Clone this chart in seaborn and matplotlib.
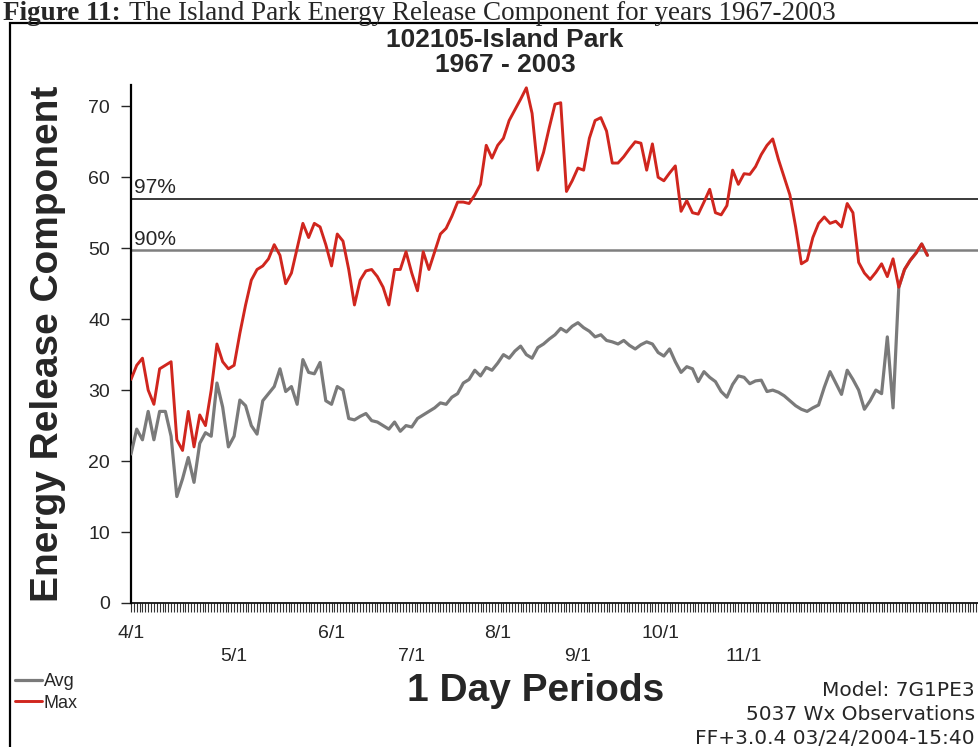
import numpy as np
import pandas as pd
import matplotlib
matplotlib.use("Agg")
import matplotlib.pyplot as plt
import seaborn as sns
from matplotlib.ticker import MultipleLocator
from matplotlib.patches import Rectangle

# ERC, un valor cada 2 dias desde 4/1
max_erc = [31.5, 33.5, 34.5, 30, 28, 33, 33.5, 34, 23, 21.5,
           27, 22, 26.5, 25, 30, 36.5, 34, 33, 33.5, 38,
           42, 45.5, 47, 47.5, 48.5, 50.5, 49, 45, 46.5, 50,
           53.5, 51.5, 53.5, 53, 50.5, 47.5, 52, 51, 47, 42,
           45.5, 46.8, 47, 46, 44.5, 42, 47, 47, 49.5, 46.5,
           44, 49.5, 47, 49.5, 52, 52.8, 54.5, 56.5, 56.5, 56.3,
           57.5, 59, 64.5, 62.7, 64.5, 65.5, 68, 69.5, 71, 72.6,
           69, 61, 63.5, 67, 70.3, 70.5, 58, 59.5, 61.3, 61,
           65.5, 68, 68.4, 66.5, 62, 62, 62.9, 64, 65, 64.8,
           61, 64.7, 60, 59.5, 60.6, 61.6, 55.2, 56.7, 55, 54.8,
           56.5, 58.3, 55, 54.7, 56, 61, 59, 60.5, 60.4, 61.5,
           63.2, 64.5, 65.4, 62.5, 60, 57.5, 53, 47.8, 48.3, 51.5,
           53.5, 54.4, 53.5, 53.8, 53, 56.3, 55, 48, 46.5, 45.6,
           46.6, 47.8, 46, 48.5, 44.5, 47, 48.3, 49.3, 50.6, 49]

avg_erc = [21, 24.5, 23, 27, 23, 27, 27, 23.5, 15, 17.5,
           20.5, 17, 22.5, 24, 23.5, 31, 27.6, 22, 23.5, 28.6,
           27.8, 25, 23.8, 28.5, 29.5, 30.5, 33, 29.8, 30.5, 28,
           34.3, 32.5, 32.3, 33.9, 28.5, 28, 30.5, 30, 26, 25.8,
           26.3, 26.7, 25.7, 25.5, 25, 24.5, 25.5, 24.2, 25, 24.8,
           26, 26.5, 27, 27.5, 28.2, 28, 29, 29.5, 31, 31.5,
           32.8, 32, 33.2, 32.8, 33.8, 35, 34.5, 35.5, 36.2, 35,
           34.5, 36, 36.5, 37.2, 37.8, 38.7, 38.2, 39, 39.5, 38.8,
           38.3, 37.5, 37.8, 37, 36.8, 36.5, 37, 36.3, 35.8, 36.4,
           36.8, 36.5, 35.3, 34.8, 35.8, 34, 32.5, 33.3, 33, 31.2,
           32.6, 31.8, 31.2, 29.8, 29, 30.8, 32, 31.8, 30.9, 31.3,
           31.4, 29.8, 30, 29.7, 29.2, 28.5, 27.8, 27.3, 27, 27.5,
           27.9, 30.4, 32.6, 31, 29.4, 32.8, 31.5, 30, 27.3, 28.5,
           30, 29.5, 37.5, 27.5, 44.5, 47, 48.3, 49.3, 50.6, 49]

dias = np.arange(len(max_erc)) * 2

tick_pos = [0, 36, 70, 98, 128, 156, 185, 214]
tick_labels = ["4/1", "\n5/1", "6/1", "\n7/1", "8/1", "\n9/1", "10/1", "\n11/1"]

pct_97 = 57.0
pct_90 = 49.7

df = pd.DataFrame({"Dia": dias, "Avg": avg_erc, "Max": max_erc})

sns.set_style("white")
plt.rcParams["font.family"] = ["Liberation Sans", "DejaVu Sans"]

fig = plt.figure(figsize=(9.79, 7.47), dpi=100)
ax = fig.add_axes([0.1338, 0.1928, 0.8662, 0.6934])

# lineas de percentil
ax.axhline(pct_97, color="#2b2b2b", lw=1.3, zorder=1)
ax.axhline(pct_90, color="#7f7f7f", lw=1.8, zorder=1)
ax.text(1, pct_97 + 0.15, "97%", fontsize=15, va="bottom", ha="left")
ax.text(1, pct_90 + 0.15, "90%", fontsize=15, va="bottom", ha="left")

sns.lineplot(x="Dia", y="Avg", data=df, ax=ax, color="#7a7a7a", lw=2.3, label="Avg", zorder=3)
sns.lineplot(x="Dia", y="Max", data=df, ax=ax, color="#d0261e", lw=2.1, label="Max", zorder=4)

ax.set_xlim(0, 296)
ax.set_ylim(0, 73)
ax.set_yticks(range(0, 71, 10))
ax.set_xticks(tick_pos)
ax.set_xticklabels(tick_labels, linespacing=1.5)
ax.xaxis.set_minor_locator(MultipleLocator(1))
ax.tick_params(axis="x", which="both", direction="out", length=6.5, width=0.8,
               color="#333333", labelsize=14, pad=9, bottom=True)
ax.tick_params(axis="y", direction="out", length=7, width=1, labelsize=14,
               pad=8, left=True)
ax.set_xlabel("")
ax.set_ylabel("Energy Release Component", fontsize=28, fontweight="bold", labelpad=16)

for s in ["top", "right"]:
    ax.spines[s].set_visible(False)
ax.spines["left"].set_color("black")
ax.spines["left"].set_linewidth(1.6)
ax.spines["bottom"].set_color("black")
ax.spines["bottom"].set_linewidth(1.2)

handles, labels = ax.get_legend_handles_labels()
ax.get_legend().remove()
fig.legend(handles, labels, loc="upper left", bbox_to_anchor=(0.008, 1 - 666 / 747),
           frameon=False, fontsize=13, handlelength=1.5, handletextpad=0.1,
           labelspacing=0.25, borderaxespad=0)

fig.text(0.516, 1 - 40 / 747, "102105-Island Park", fontsize=19, fontweight="bold",
         ha="center", va="center")
fig.text(0.516, 1 - 65 / 747, "1967 - 2003", fontsize=19, fontweight="bold",
         ha="center", va="center")
fig.text(0.547, 1 - 691 / 747, "1 Day Periods", fontsize=28, fontweight="bold",
         ha="center", va="center")

for i, linea in enumerate(["Model: 7G1PE3", "5037 Wx Observations", "FF+3.0.4 03/24/2004-15:40"]):
    fig.text(0.996, 1 - (690 + 24 * i) / 747, linea, fontsize=14.5, ha="right", va="center",
             family="DejaVu Sans")

# pie de figura y marco
fig.text(0.003, 1 - 19.5 / 747, "Figure 11:", fontsize=19.5, fontweight="bold",
         family="Liberation Serif", va="baseline")
fig.text(0.132, 1 - 19.5 / 747, "The Island Park Energy Release Component for years 1967-2003",
         fontsize=19.5, family="Liberation Serif", va="baseline")
fig.add_artist(Rectangle((10 / 979, -0.1), 1.5, 1.1 - 23 / 747, transform=fig.transFigure,
                         fill=False, lw=1.6, color="black"))

fig.savefig("out.png", dpi=100)
